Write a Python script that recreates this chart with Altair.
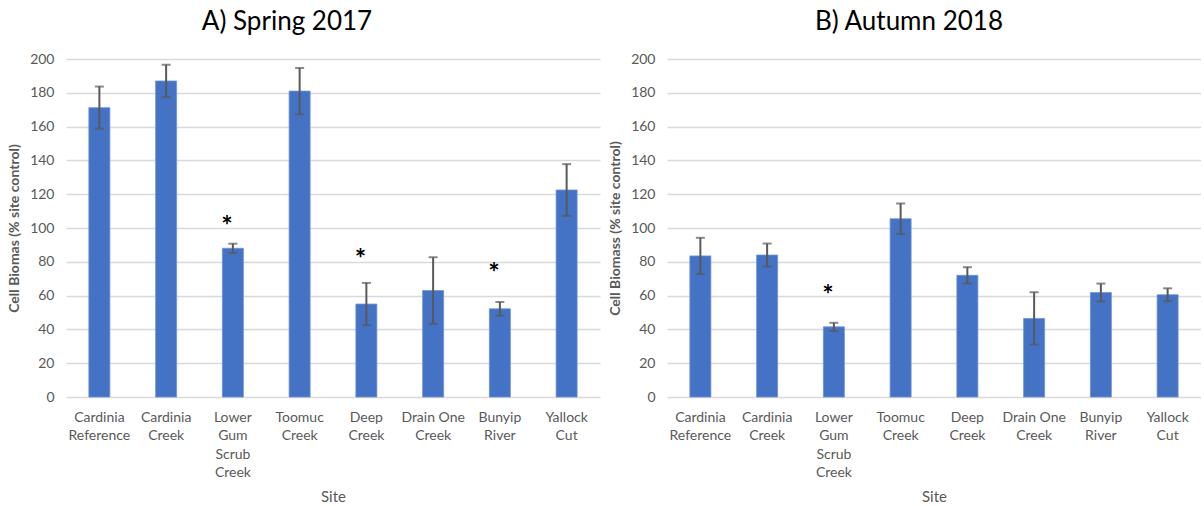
import altair as alt
import pandas as pd

# Sites, with line breaks used for the wrapped axis labels
sites = [
    "Cardinia\nReference",
    "Cardinia\nCreek",
    "Lower\nGum\nScrub\nCreek",
    "Toomuc\nCreek",
    "Deep\nCreek",
    "Drain One\nCreek",
    "Bunyip\nRiver",
    "Yallock\nCut",
]

# Spring 2017: mean cell biomass (% of site control) and error
spring_mean = [171.2, 187.0, 88.0, 181.0, 55.0, 63.0, 52.2, 122.5]
spring_err = [12.5, 9.6, 2.7, 13.7, 12.5, 19.7, 4.0, 15.3]
spring_sig = ["", "", "*", "", "*", "", "*", ""]
spring_sig_y = [0, 0, 105, 0, 85, 0, 77, 0]

# Autumn 2018
autumn_mean = [83.5, 84.0, 41.5, 105.5, 72.0, 46.5, 61.8, 60.5]
autumn_err = [10.7, 6.8, 2.4, 9.0, 4.8, 15.5, 5.3, 3.8]
autumn_sig = ["", "", "*", "", "", "", "", ""]
autumn_sig_y = [0, 0, 64, 0, 0, 0, 0, 0]

BAR = "#4472C4"
GREY = "#595959"
FONT = "Lato"


def panel(means, errs, sig, sig_y, title, ytitle, title_dx):
    df = pd.DataFrame({
        "site": sites,
        "mean": means,
        "lo": [m - e for m, e in zip(means, errs)],
        "hi": [m + e for m, e in zip(means, errs)],
    })
    stars = pd.DataFrame({"site": sites, "mark": sig, "y": sig_y})
    stars = stars[stars["mark"] != ""]

    xscale = alt.Scale(paddingInner=0.685, paddingOuter=0.3425)
    yscale = alt.Scale(domain=[0, 200], nice=False)

    def X():
        return alt.X("site:N", sort=sites, scale=xscale, title="Site")

    def Y(field):
        return alt.Y(field, scale=yscale, title=ytitle)

    base = alt.Chart(df)
    bars = base.mark_bar(color=BAR, stroke="#6E93D6", strokeWidth=0.8).encode(
        x=X(), y=Y("mean:Q")
    )
    stem = base.mark_rule(color=GREY, strokeWidth=2).encode(
        x=X(), y=Y("lo:Q"), y2="hi:Q"
    )
    cap_hi = base.mark_tick(color=GREY, size=9, thickness=2, orient="horizontal").encode(
        x=X(), y=Y("hi:Q")
    )
    cap_lo = base.mark_tick(color=GREY, size=9, thickness=2, orient="horizontal").encode(
        x=X(), y=Y("lo:Q")
    )
    star = alt.Chart(stars).mark_text(
        fontSize=27, font=FONT, fontWeight="bold", color="black", dx=-6,
        baseline="middle", dy=7
    ).encode(x=X(), y=Y("y:Q"), text="mark:N")

    return alt.layer(bars, stem, cap_hi, cap_lo, star).properties(
        width=534,
        height=338,
        title=alt.TitleParams(
            text=title,
            font=FONT,
            fontSize=26,
            fontWeight="normal",
            color="black",
            anchor="middle",
            dx=title_dx,
            offset=17,
        ),
    )


left = panel(spring_mean, spring_err, spring_sig, spring_sig_y,
             "A) Spring 2017", "Cell Biomas (% site control)", -46)
right = panel(autumn_mean, autumn_err, autumn_sig, autumn_sig_y,
              "B) Autumn 2018", "Cell Biomass (% site control)", -25)

chart = (
    alt.hconcat(left, right, spacing=67, bounds="flush")
    .properties(
        padding={"left": 7, "top": 9, "right": 0, "bottom": 0},
        background="white",
    )
    .configure_view(strokeWidth=0)
    .configure_axis(
        domain=False,
        ticks=False,
        labelFont=FONT,
        titleFont=FONT,
        labelColor=GREY,
        titleColor=GREY,
        labelFontSize=14,
    )
    .configure_axisX(
        labelExpr="split(datum.label, '\\n')",
        labelAngle=0,
        labelAlign="center",
        labelBaseline="top",
        labelLineHeight=18.5,
        labelPadding=13,
        titleFontSize=15,
        titleFontWeight="normal",
        titlePadding=10,
        grid=False,
    )
    .configure_axisY(
        tickCount=10,
        labelOverlap=False,
        grid=True,
        gridColor="#D9D9D9",
        gridWidth=1.5,
        labelPadding=12,
        titleFontSize=14,
        titleFontWeight="bold",
        titlePadding=8,
    )
)

chart.save("out.html", embed_options={"renderer": "svg", "actions": False})
